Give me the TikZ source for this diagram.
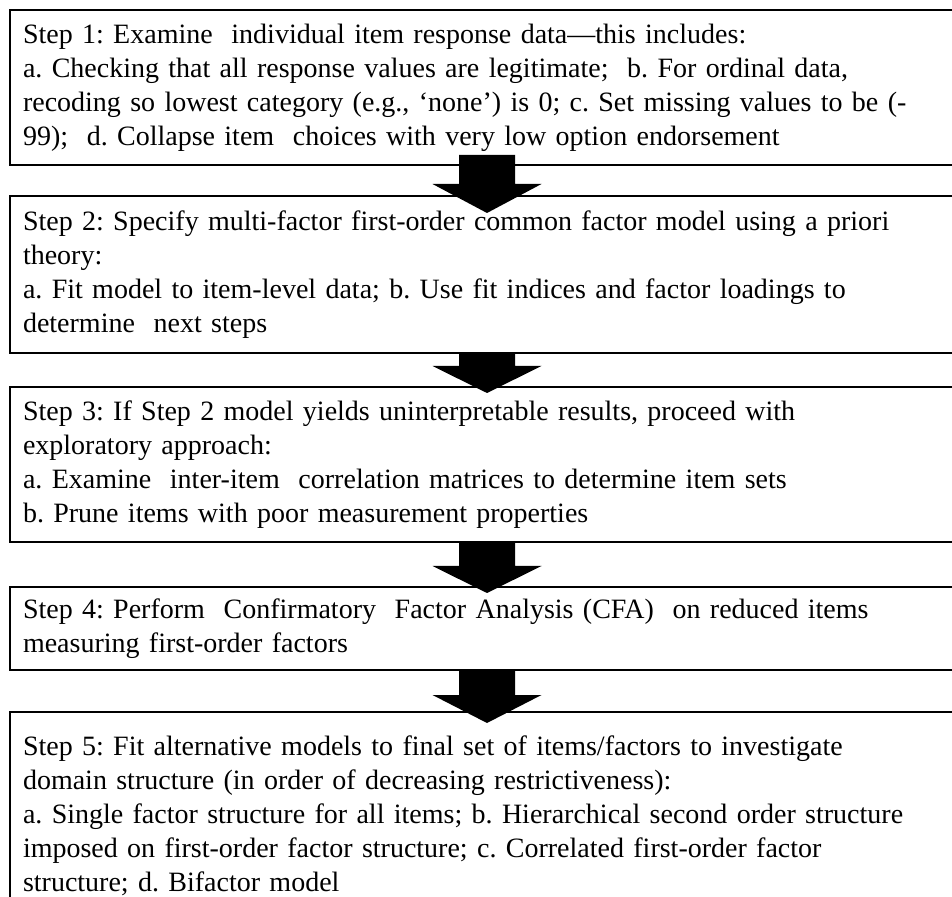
\documentclass[tikz,border=0pt]{standalone}
\usepackage{fontspec}
\setmainfont{Liberation Serif}
\usetikzlibrary{positioning}
\usetikzlibrary{calc}
\frenchspacing
\hyphenpenalty=10000

\begin{document}
\begin{tikzpicture}[x=0.75pt,y=0.75pt,
                step box/.style={draw,line width=1.4pt,outer sep=0pt,text width=696pt,align=left,
                  inner xsep=9.75pt,inner ysep=0pt,font=\fontsize{21}{25.5}\selectfont},
                block arrow/.style={fill=black},
                ]
                \useasboundingbox (0,0) rectangle (952,896);
                \clip (0,0) rectangle (952,896);
                \node[step box, anchor=north, minimum height=116.25pt] (1) at (487,886) {Step 1: Examine\ \ individual item response data—this includes:\\
                  a. Checking that all response values are legitimate;\ \ b. For ordinal data,\\
                  recoding so lowest category (e.g., ‘none’) is 0; c. Set missing values to be (-\\
                  99);\ \ d. Collapse item\ \ choices with very low option endorsement};
                \node[step box, minimum height=117.75pt, below=23.25pt of 1] (2) {Step 2: Specify multi-factor first-order common factor model using a priori\\
                  theory:\\
                  a. Fit model to item-level data; b. Use fit indices and factor loadings to\\
                  determine\ \ next steps};
                \node[step box, minimum height=116.25pt, below=25.5pt of 2] (3) {Step 3: If Step 2 model yields uninterpretable results, proceed with\\
                  exploratory approach:\\
                  a. Examine\ \ inter-item\ \ correlation matrices to determine item sets\\
                  b. Prune items with poor measurement properties};
                \node[step box, minimum height=62.25pt, below=33.75pt of 3] (4) {Step 4: Perform\ \ Confirmatory\ \ Factor Analysis (CFA)\ \ on reduced items\\
                  measuring first-order factors};
                \node[step box, minimum height=155pt, below=31.5pt of 4] (5) {Step 5: Fit alternative models to final set of items/factors to investigate\\
                  domain structure (in order of decreasing restrictiveness):\\
                  a. Single factor structure for all items; b. Hierarchical second order structure\\
                  imposed on first-order factor structure; c. Correlated first-order factor\\
                  structure; d. Bifactor model};

                % arrows between the steps
                \foreach \a/\b/\up/\hd/\tp in {1/2/10/12/17, 2/3/0/21/6, 3/4/0/21/6, 4/5/0/17/11}
                  \fill[block arrow] ($(\a.south)+(-28,\up)$) -- ($(\a.south)+(28,\up)$)
                    -- ($(\b.north)+(28,\hd)$) -- ($(\b.north)+(54.5,\hd)$)
                    -- ($(\b.north)+(0,-\tp)$)
                    -- ($(\b.north)+(-54.5,\hd)$) -- ($(\b.north)+(-28,\hd)$) -- cycle;
            \end{tikzpicture}
\end{document}
